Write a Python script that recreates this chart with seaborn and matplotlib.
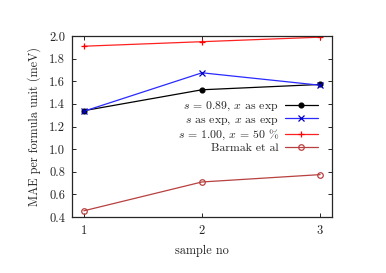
import matplotlib
matplotlib.use('Agg')
import matplotlib.pyplot as plt
import seaborn as sns
import pandas as pd

samples = [1, 2, 3]
mae_s089 = [1.34, 1.525, 1.572]
mae_s_exp = [1.335, 1.675, 1.565]
mae_s100 = [1.91, 1.95, 1.99]
mae_barmak = [0.455, 0.71, 0.775]

labels = [r'$s$ = 0.89, $x$ as exp', r'$s$ as exp, $x$ as exp',
          r'$s$ = 1.00, $x$ = 50 %', 'Barmak et al']

sns.set_style('ticks')
plt.rcParams['font.family'] = 'serif'
plt.rcParams['font.serif'] = ['cmr10']
plt.rcParams['mathtext.fontset'] = 'cm'
plt.rcParams['axes.formatter.use_mathtext'] = True
plt.rcParams['axes.unicode_minus'] = False

fig = plt.figure(figsize=(3.86, 2.73), dpi=100)
ax = fig.add_axes([0.1865, 0.205, 0.6735, 0.663])

series = [
    (mae_s089, labels[0], 'black', 'o', 'black', 3.5),
    (mae_s_exp, labels[1], '#2a2aff', 'x', '#0000c0', 4),
    (mae_s100, labels[2], '#ff2020', '+', '#ff0000', 5),
    (mae_barmak, labels[3], '#b84040', 'o', 'none', 4),
]
for vals, lab, col, mk, fc, ms in series:
    df = pd.DataFrame({'sample': samples, 'mae': vals})
    sns.lineplot(data=df, x='sample', y='mae', ax=ax, color=col, lw=0.9,
                 marker=mk, markersize=ms, markerfacecolor=fc,
                 markeredgecolor=col if fc == 'none' else fc,
                 markeredgewidth=0.9, label=lab)

ax.set_xlim(0.9, 3.1)
ax.set_ylim(0.4, 2.0)
ax.set_xticks(samples)
ax.set_yticks([0.4, 0.6, 0.8, 1.0, 1.2, 1.4, 1.6, 1.8, 2.0])
ax.set_yticklabels(['0.4', '0.6', '0.8', '1.0', '1.2', '1.4', '1.6', '1.8', '2.0'])
ax.tick_params(direction='in', top=True, right=True, length=3, width=0.7,
               labelsize=9, pad=5)
for sp in ax.spines.values():
    sp.set_linewidth(0.9)
ax.set_xlabel('sample no', fontsize=8.8, labelpad=6)
ax.set_ylabel('MAE per formula unit (meV)', fontsize=8.8, labelpad=6)

leg = ax.legend(loc='center right', bbox_to_anchor=(0.946, 0.5), frameon=False,
                markerfirst=False, fontsize=8.5, handlelength=2.8,
                labelspacing=0.08, borderaxespad=0, borderpad=0,
                handletextpad=0.5)
for t in leg.get_texts():
    t.set_ha('right')
leg._legend_box.align = 'right'

fig.savefig('out.png', dpi=100)
